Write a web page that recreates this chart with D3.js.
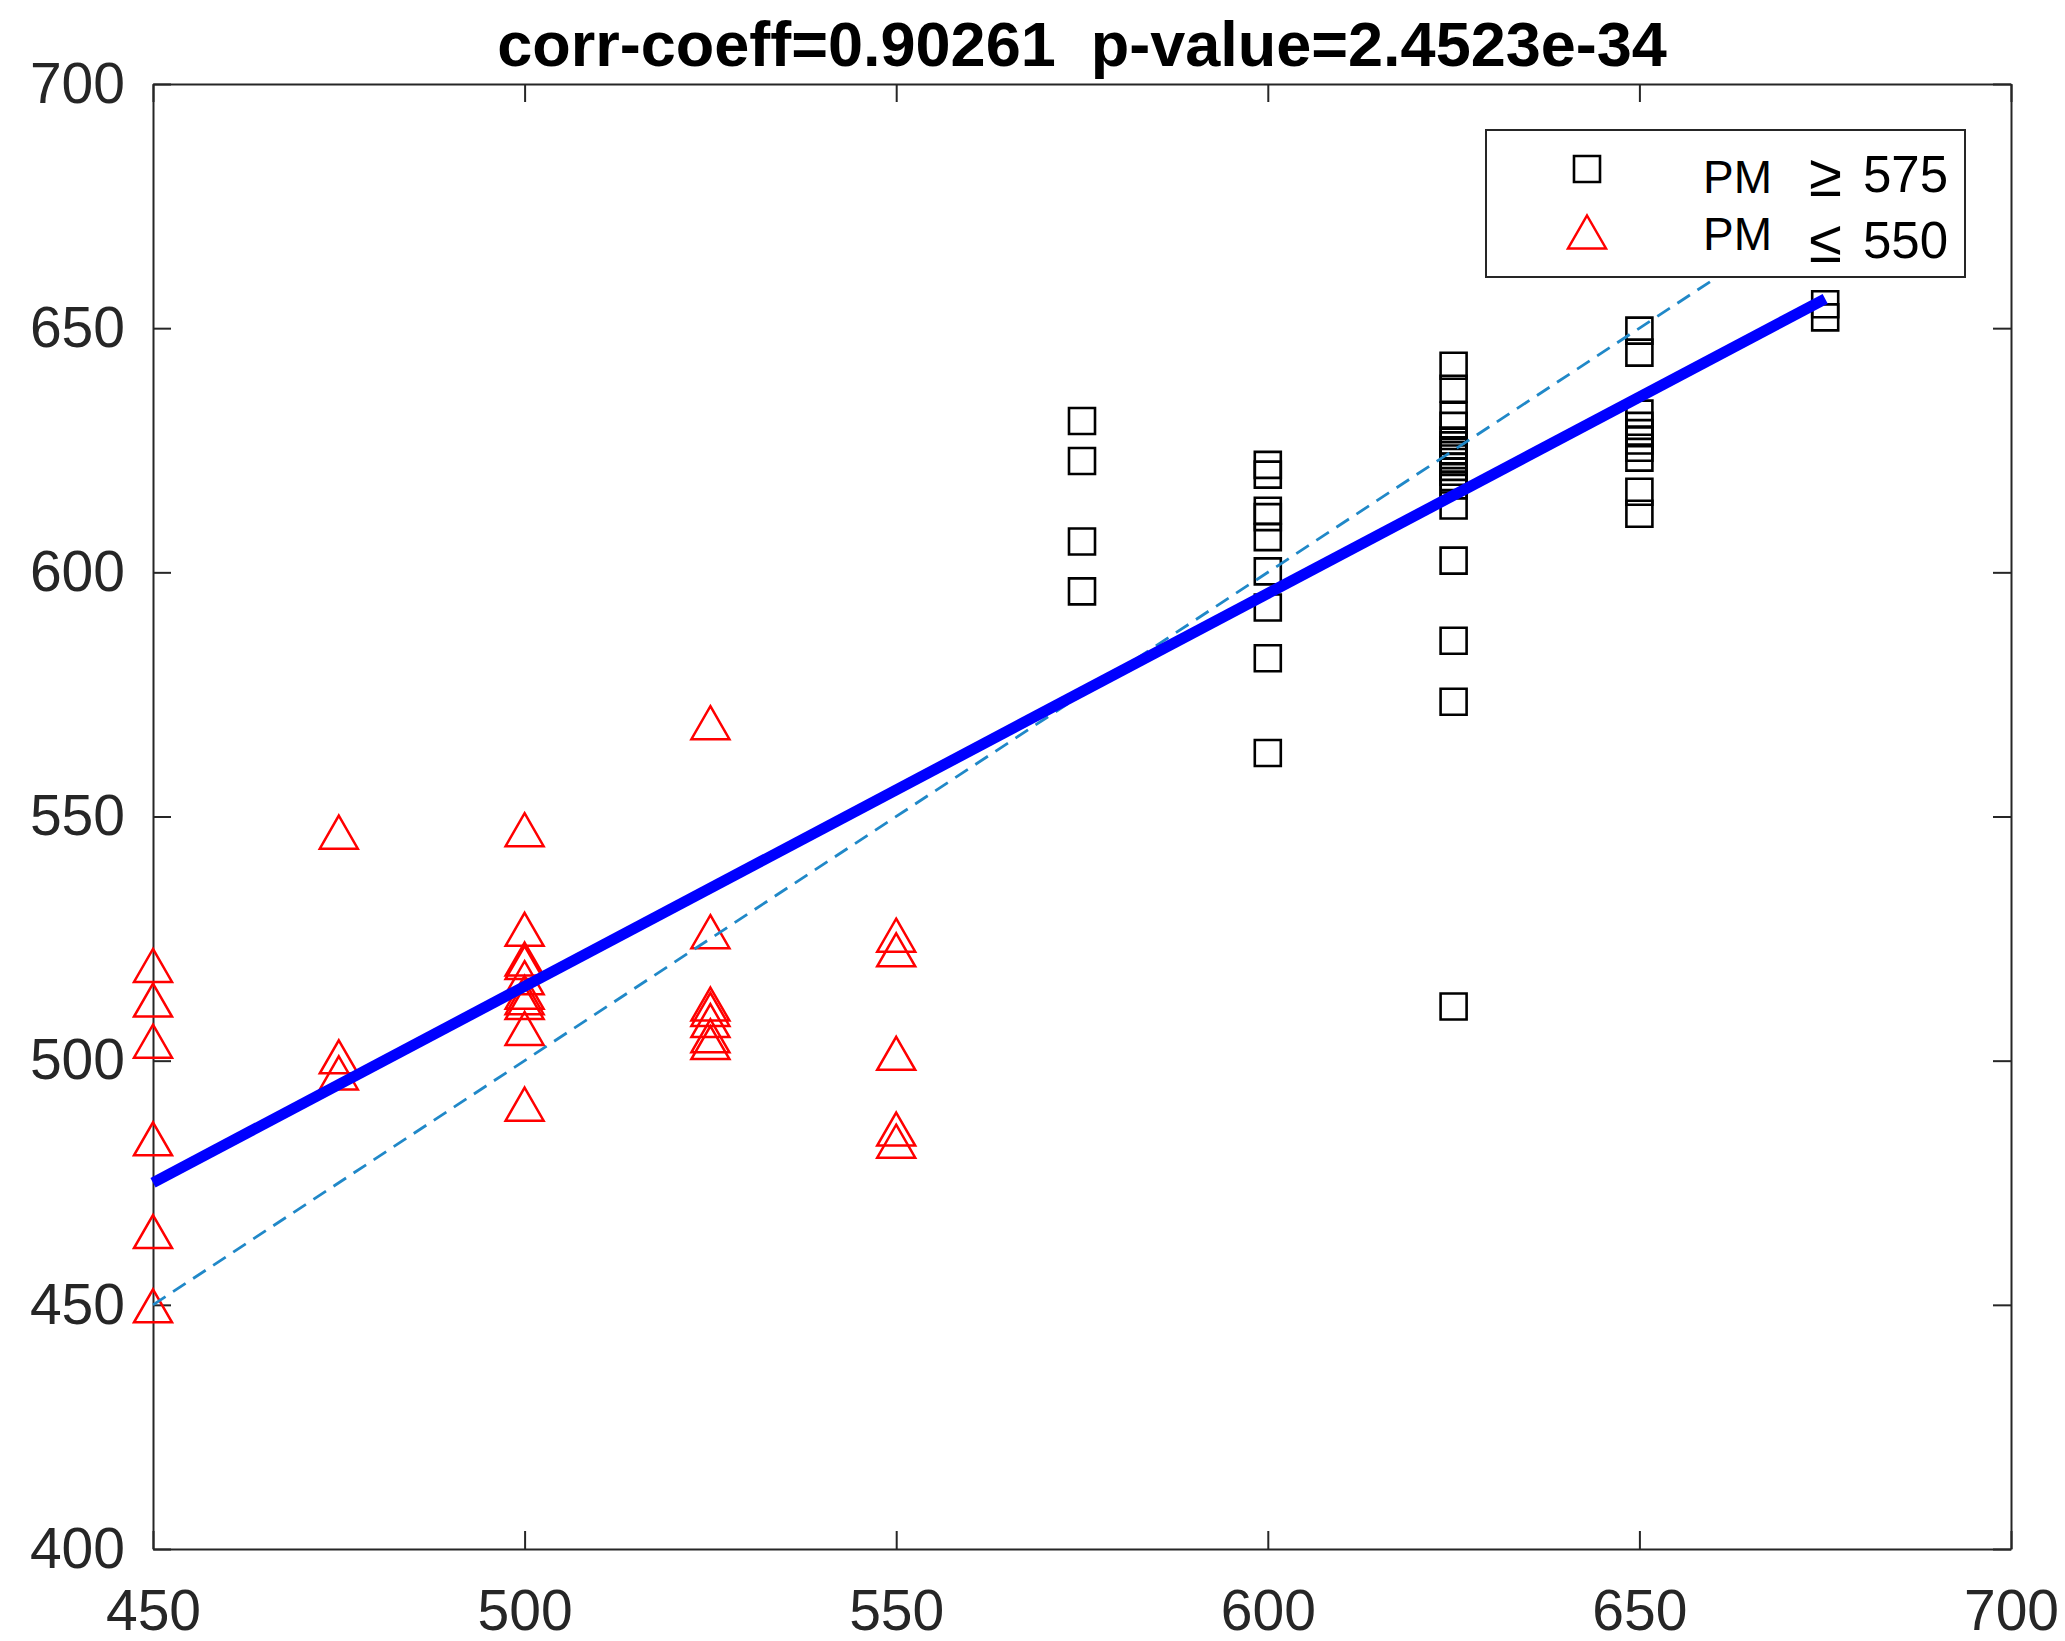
<!DOCTYPE html>
<html>
<head>
<meta charset="utf-8">
<script src="https://cdn.jsdelivr.net/npm/d3@7/dist/d3.min.js"></script>
<style>
body { margin: 0; background: #fff; }
</style>
</head>
<body>
<div id="chart"></div>
<script>
var xTicks = [450, 500, 550, 600, 650, 700];
var yTicks = [400, 450, 500, 550, 600, 650, 700];

// PM >= 575, drawn as black squares, one list of y values per x column
var squareX = [575, 600, 625, 650, 675];
var squareY = [
    [631, 622.8, 606.3, 596.1],
    [622.0, 620.0, 612.6, 611.3, 607.2, 600.2, 592.8, 582.4, 563.0],
    [642.3, 637.6, 632.1, 630.0, 627.0, 626.0, 625.0, 624.0, 623.3, 622.6, 621.6, 620.6, 619.5, 617.8, 613.7, 602.4, 586.0, 573.5, 511.1],
    [649.5, 645.0, 632.5, 630.0, 628.5, 627.0, 625.5, 623.5, 616.5, 612.0],
    [654.9, 652.2]
];

// PM <= 550, drawn as red triangles
var triangleX = [450, 475, 500, 525, 550];
var triangleY = [
    [519.5, 512.4, 504, 484, 465, 449.8],
    [546.8, 500.8, 497.5],
    [547.3, 526.9, 520.8, 520.1, 517.0, 514.0, 512.9, 511.9, 506.6, 491.1],
    [569.2, 526.4, 511.6, 510.5, 508.2, 505.1, 503.7],
    [525.7, 522.7, 501.5, 486.0, 483.5]
];

// fitted line and the y = x reference line
var fitX = [450, 675];
var fitY = [475, 656];
var refX = [450, 675];
var refY = [450, 675];

var titleText = "corr-coeff=0.90261  p-value=2.4523e-34";
var legendLabels = [
    { name: "PM", sign: "\u2265", value: "575" },
    { name: "PM", sign: "\u2264", value: "550" }
];

var W = 2065, H = 1641;
var margin = { left: 153, right: 2011, top: 84, bottom: 1549 };
var axisColor = "#262626";
var font = "'Liberation Sans', Arial, Helvetica, sans-serif";

var svg = d3.select("#chart").append("svg")
    .attr("width", W)
    .attr("height", H)
    .style("background", "#fff");

var x = d3.scaleLinear().domain([450, 700]).range([margin.left, margin.right]);
var y = d3.scaleLinear().domain([400, 700]).range([margin.bottom, margin.top]);

function squarePath(s) {
    var h = s / 2;
    return "M" + (-h) + "," + (-h) + "H" + h + "V" + h + "H" + (-h) + "Z";
}
function trianglePath(w, h) {
    return "M0," + (-h / 2) + "L" + (w / 2) + "," + (h / 2) + "L" + (-w / 2) + "," + (h / 2) + "Z";
}

// axes, ticks inward on all four sides
function styleAxis(g) {
    g.select(".domain").attr("stroke", axisColor).attr("stroke-width", 2);
    g.selectAll(".tick line").attr("stroke", axisColor).attr("stroke-width", 2);
    g.selectAll(".tick text")
        .attr("fill", axisColor)
        .style("font-family", font)
        .style("font-size", "57px");
}

svg.append("g")
    .attr("transform", "translate(0," + margin.bottom + ")")
    .call(d3.axisBottom(x).tickValues(xTicks).tickSizeInner(-18).tickSizeOuter(0).tickPadding(41))
    .call(styleAxis);

svg.append("g")
    .attr("transform", "translate(" + margin.left + ",0)")
    .call(d3.axisLeft(y).tickValues(yTicks).tickSizeInner(-18).tickSizeOuter(0).tickPadding(28))
    .call(styleAxis);

svg.append("g")
    .attr("transform", "translate(0," + margin.top + ")")
    .call(d3.axisTop(x).tickValues(xTicks).tickSizeInner(-18).tickSizeOuter(0).tickFormat(""))
    .call(styleAxis);

svg.append("g")
    .attr("transform", "translate(" + margin.right + ",0)")
    .call(d3.axisRight(y).tickValues(yTicks).tickSizeInner(-18).tickSizeOuter(0).tickFormat(""))
    .call(styleAxis);

// squares
squareX.forEach(function(xv, i) {
    svg.append("g").selectAll("path")
        .data(squareY[i])
        .enter()
        .append("path")
        .attr("d", squarePath(26))
        .attr("transform", function(d) { return "translate(" + x(xv) + "," + y(d) + ")"; })
        .attr("fill", "none")
        .attr("stroke", "#000")
        .attr("stroke-width", 2.6);
});

// triangles
triangleX.forEach(function(xv, i) {
    svg.append("g").selectAll("path")
        .data(triangleY[i])
        .enter()
        .append("path")
        .attr("d", trianglePath(38, 33))
        .attr("transform", function(d) { return "translate(" + x(xv) + "," + y(d) + ")"; })
        .attr("fill", "none")
        .attr("stroke", "#ff0000")
        .attr("stroke-width", 2.5);
});

var line = d3.line()
    .x(function(d) { return x(d[0]); })
    .y(function(d) { return y(d[1]); });

svg.append("path")
    .datum(d3.zip(refX, refY))
    .attr("d", line)
    .attr("fill", "none")
    .attr("stroke", "#2088c8")
    .attr("stroke-width", 2.8)
    .attr("stroke-dasharray", "15,9");

svg.append("path")
    .datum(d3.zip(fitX, fitY))
    .attr("d", line)
    .attr("fill", "none")
    .attr("stroke", "#0000ff")
    .attr("stroke-width", 11);

// title
svg.append("text")
    .attr("x", (margin.left + margin.right) / 2)
    .attr("y", 66)
    .attr("text-anchor", "middle")
    .style("font-family", font)
    .style("font-weight", "bold")
    .style("font-size", "63px")
    .style("white-space", "pre")
    .attr("fill", "#000")
    .text(titleText);

// legend
var lg = svg.append("g").attr("transform", "translate(1486,130)");
lg.append("rect")
    .attr("width", 479)
    .attr("height", 147)
    .attr("fill", "#fff")
    .attr("stroke", axisColor)
    .attr("stroke-width", 2);

lg.append("path")
    .attr("d", squarePath(26))
    .attr("transform", "translate(101,39)")
    .attr("fill", "none")
    .attr("stroke", "#000")
    .attr("stroke-width", 2.6);

lg.append("path")
    .attr("d", trianglePath(38, 33))
    .attr("transform", "translate(101,102)")
    .attr("fill", "none")
    .attr("stroke", "#ff0000")
    .attr("stroke-width", 2.5);

var rowBase = [[63, 62], [120, 128]];
legendLabels.forEach(function(d, i) {
    lg.append("text")
        .attr("x", 217)
        .attr("y", rowBase[i][0])
        .style("font-family", font)
        .style("font-size", "46px")
        .attr("fill", "#000")
        .text(d.name);
    lg.append("text")
        .attr("x", 323)
        .attr("y", rowBase[i][1] + 4)
        .style("font-family", font)
        .style("font-size", "60px")
        .attr("fill", "#000")
        .text(d.sign);
    lg.append("text")
        .attr("x", 377)
        .attr("y", rowBase[i][1])
        .style("font-family", font)
        .style("font-size", "51px")
        .attr("fill", "#000")
        .text(d.value);
});
</script>
</body>
</html>
